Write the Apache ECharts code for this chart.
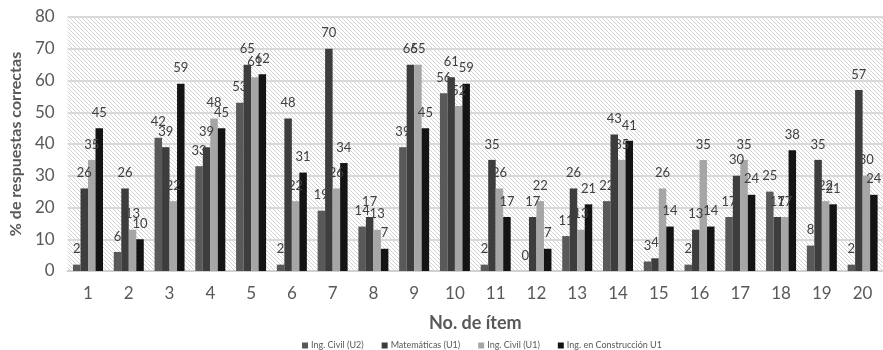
<!DOCTYPE html>
<html>
<head>
<meta charset="utf-8">
<script src="https://cdn.jsdelivr.net/npm/echarts@6/dist/echarts.min.js"></script>
<style>
  html, body { margin: 0; padding: 0; background: #fff; }
  #chart { width: 883px; height: 350px; }
</style>
</head>
<body>
<div id="chart"></div>
<script>
// Item numbers on the x axis
const items = ['1','2','3','4','5','6','7','8','9','10','11','12','13','14','15','16','17','18','19','20'];

// % of correct answers per item and group
const civilU2        = [2, 6, 42, 33, 53, 2, 19, 14, 39, 56, 2, 0, 11, 22, 3, 2, 17, 25, 8, 2];
const matematicasU1  = [26, 26, 39, 39, 65, 48, 70, 17, 65, 61, 35, 17, 26, 43, 4, 13, 30, 17, 35, 57];
const civilU1        = [35, 13, 22, 48, 61, 22, 26, 13, 65, 52, 26, 22, 13, 35, 26, 35, 35, 17, 22, 30];
const construccionU1 = [45, 10, 59, 45, 62, 31, 34, 7, 45, 59, 17, 7, 21, 41, 14, 14, 24, 38, 21, 24];

const seriesNames = ['Ing. Civil (U2)', 'Matemáticas (U1)', 'Ing. Civil (U1)', 'Ing. en Construcción U1'];
const seriesColors = ['#595959', '#3d3d3d', '#a6a6a6', '#141414'];

// Diagonal hatch fill for the plot area
function hatchPattern() {
  const n = 4;
  const c = document.createElement('canvas');
  c.width = n; c.height = n;
  const ctx = c.getContext('2d');
  const img = ctx.createImageData(n, n);
  for (let y = 0; y < n; y++) {
    for (let x = 0; x < n; x++) {
      const i = (y * n + x) * 4;
      const on = ((x - y) % n + n) % n === 0;
      const v = on ? 0xd2 : 0xff;
      img.data[i] = v; img.data[i + 1] = v; img.data[i + 2] = v; img.data[i + 3] = 255;
    }
  }
  ctx.putImageData(img, 0, 0);
  return c;
}

const font = 'Lato, "Open Sans", sans-serif';
const chart = echarts.init(document.getElementById('chart'), null, { renderer: 'canvas' });

const dataSets = [civilU2, matematicasU1, civilU1, construccionU1];

chart.setOption({
  animation: false,
  textStyle: { fontFamily: font },
  grid: {
    left: 64, top: 17, width: 824, height: 254,
    show: true,
    borderWidth: 0,
    backgroundColor: { image: hatchPattern(), repeat: 'repeat' }
  },
  legend: {
    left: 297, top: 336,
    itemWidth: 6, itemHeight: 6, itemGap: 18,
    icon: 'rect',
    textStyle: { fontSize: 9, color: '#595959', fontFamily: font, padding: [0, 0, 0, -2] },
    data: seriesNames
  },
  xAxis: {
    type: 'category',
    data: items,
    name: 'No. de ítem',
    nameLocation: 'middle',
    nameGap: 43,
    nameTextStyle: { fontSize: 18, fontWeight: 'bold', color: '#595959', fontFamily: font },
    axisLine: { show: true, lineStyle: { color: '#d0d0d0', width: 2 } },
    axisTick: { show: false },
    axisLabel: { fontSize: 17, color: '#595959', margin: 14, fontFamily: font }
  },
  yAxis: {
    type: 'value',
    min: 0, max: 80, interval: 10,
    name: '% de respuestas correctas',
    nameLocation: 'middle',
    nameGap: 40,
    nameTextStyle: { fontSize: 16, fontWeight: 'bold', color: '#595959', fontFamily: font },
    axisLine: { show: false },
    axisTick: { show: false },
    axisLabel: { fontSize: 17, color: '#595959', margin: 13, fontFamily: font },
    splitLine: { lineStyle: { color: '#d9d9d9', width: 2 } }
  },
  series: dataSets.map((d, k) => ({
    name: seriesNames[k],
    type: 'bar',
    data: d,
    barWidth: 7.5,
    barGap: '0%',
    itemStyle: { color: seriesColors[k] },
    label: {
      show: true,
      position: 'top',
      distance: 9,
      fontSize: 13,
      color: '#404040',
      fontFamily: font
    }
  }))
});
</script>
</body>
</html>
